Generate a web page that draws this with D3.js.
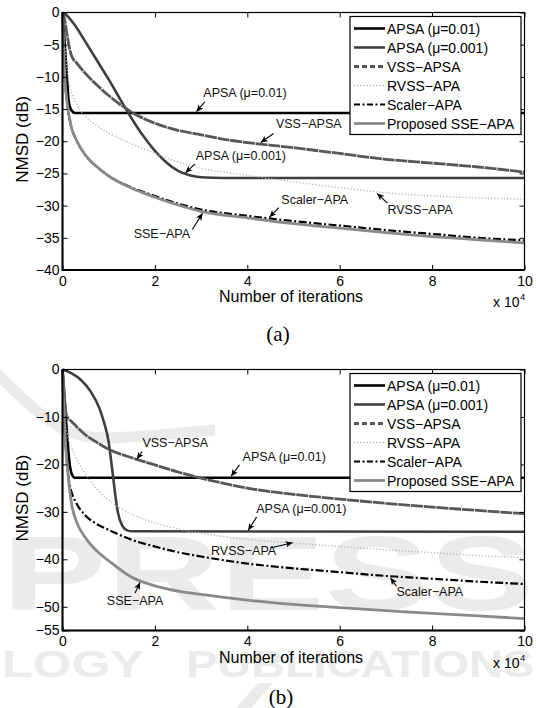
<!DOCTYPE html>
<html><head><meta charset="utf-8">
<script src="https://cdn.jsdelivr.net/npm/d3@7"></script>
<style>
body{margin:0;background:#fff}
svg{display:block}
text{font-family:"Liberation Sans",Arial,Helvetica,sans-serif}
</style>
</head><body>
<svg id="c" width="536" height="708"></svg>
<script>
// ---------------- data (x in units of 10^4 iterations, y in dB) ----------------
const xTicks = [0, 2, 4, 6, 8, 10];
const yTicksA = [0, -5, -10, -15, -20, -25, -30, -35, -40];
const yTicksB = [0, -10, -20, -30, -40, -50, -55];
const seriesNames = ["APSA (\u03bc=0.01)", "APSA (\u03bc=0.001)", "VSS\u2212APSA", "RVSS\u2212APA", "Scaler\u2212APA", "Proposed SSE\u2212APA"];

// panel (a)
const a_APSA_mu01 = [[0,0],[0.05,-5],[0.1,-10.5],[0.13,-13.5],[0.18,-15],[0.27,-15.6],[10,-15.6]];
const a_APSA_mu001 = [[0,0],[0.1,-0.5],[0.25,-1.8],[0.5,-4.6],[0.75,-7.5],[1,-10.4],[1.25,-13.5],[1.5,-16.5],[1.75,-19.2],[2,-21.5],[2.25,-23.3],[2.5,-24.6],[2.75,-25.3],[3,-25.6],[3.5,-25.7],[10,-25.7]];
const a_VSS = [[0,0],[0.05,-1.2],[0.1,-3.5],[0.15,-5.5],[0.2,-6.8],[0.3,-7.8],[0.5,-9.5],[0.75,-11.3],[1,-12.9],[1.25,-14.3],[1.5,-15.5],[2,-17.2],[2.5,-18.3],[3,-19.0],[3.5,-19.7],[4,-20.2],[5,-21.0],[6,-21.9],[7,-22.8],[8,-23.4],[9,-24.0],[10,-24.8]];
const a_RVSS = [[0,0],[0.05,-5],[0.1,-9],[0.2,-12.5],[0.3,-14.2],[0.5,-16.2],[0.75,-17.6],[1,-18.7],[1.5,-20.4],[2,-21.9],[2.5,-23.2],[3,-24.2],[3.5,-24.8],[4,-25.3],[5,-26.3],[6,-27.2],[7,-28.0],[8,-28.5],[9,-28.8],[10,-29.0]];
const a_Scaler = [[0,0],[0.02,-5],[0.05,-10],[0.1,-14],[0.2,-18],[0.3,-19.8],[0.5,-22.2],[0.75,-24],[1,-25.4],[1.5,-27.2],[2,-28.5],[2.5,-29.7],[3,-30.6],[4,-31.6],[5,-32.4],[6,-33.1],[7,-33.8],[8,-34.4],[9,-35.0],[10,-35.4]];
const a_SSE = [[0,0],[0.02,-5],[0.05,-10],[0.1,-14],[0.2,-18],[0.3,-19.8],[0.5,-22.2],[0.75,-24],[1,-25.4],[1.5,-27.3],[2,-28.7],[2.5,-29.9],[3,-30.9],[4,-31.9],[5,-32.8],[6,-33.5],[7,-34.2],[8,-34.8],[9,-35.3],[10,-35.8]];

// panel (b)
const b_APSA_mu01 = [[0,0],[0.05,-7],[0.1,-14],[0.15,-19.5],[0.2,-22],[0.27,-22.8],[10,-22.8]];
const b_APSA_mu001 = [[0,0],[0.2,-0.8],[0.4,-2.2],[0.6,-4.5],[0.8,-8.2],[0.9,-11.2],[1,-15.3],[1.05,-19],[1.1,-23],[1.15,-27],[1.2,-30.2],[1.3,-33],[1.4,-33.9],[1.5,-34.1],[10,-34.2]];
const b_VSS = [[0,0],[0.03,-4],[0.06,-8],[0.1,-10],[0.2,-11],[0.3,-12],[0.5,-13.8],[0.75,-15.4],[1,-16.8],[1.5,-18.6],[2,-20.1],[2.5,-21.6],[3,-22.9],[3.5,-24],[4,-25],[5,-26.3],[6,-27.3],[7,-28.2],[8,-29],[9,-29.7],[10,-30.4]];
const b_RVSS = [[0,0],[0.03,-6],[0.06,-11],[0.1,-13.5],[0.2,-16.5],[0.3,-18.8],[0.5,-22],[0.75,-25.3],[1,-27.5],[1.5,-30.5],[2,-32.3],[2.5,-33.6],[3,-34.5],[4,-35.8],[5,-36.6],[6,-37.3],[7,-38],[8,-38.6],[9,-39.2],[10,-39.7]];
const b_Scaler = [[0,0],[0.02,-6],[0.05,-13],[0.1,-20],[0.15,-24],[0.2,-26],[0.3,-28.2],[0.5,-30.8],[0.75,-32.6],[1,-33.8],[1.5,-35.9],[2,-37.3],[2.5,-38.5],[3,-39.4],[4,-40.9],[5,-41.9],[6,-42.7],[7,-43.5],[8,-44.1],[9,-44.7],[10,-45.2]];
const b_SSE = [[0,0],[0.02,-6],[0.05,-13],[0.1,-20],[0.15,-25],[0.2,-28.5],[0.3,-32],[0.5,-35.5],[0.75,-38.3],[1,-40.3],[1.5,-43.8],[2,-45.6],[2.5,-46.7],[3,-47.4],[4,-48.6],[5,-49.5],[6,-50.2],[7,-50.8],[8,-51.4],[9,-51.9],[10,-52.5]];

// annotations: label, text anchor point, arrow tail, arrow tip (data units)
const annotationsA = [
  {t:"APSA (\u03bc=0.01)", tx:3.95, ty:-13.2, x1:3.08, y1:-13.9, x2:2.9, y2:-15.4},
  {t:"VSS\u2212APSA", tx:5.33, ty:-18.0, x1:4.57, y1:-18.8, x2:4.29, y2:-20.2},
  {t:"APSA (\u03bc=0.001)", tx:3.86, ty:-22.9, x1:2.87, y1:-23.5, x2:2.66, y2:-24.9},
  {t:"Scaler\u2212APA", tx:5.46, ty:-29.8, x1:4.68, y1:-30.3, x2:4.48, y2:-31.8},
  {t:"SSE\u2212APA", tx:2.15, ty:-35.0, x1:2.81, y1:-33.7, x2:3.03, y2:-31.2},
  {t:"RVSS\u2212APA", tx:7.74, ty:-31.3, x1:7.03, y1:-29.6, x2:6.81, y2:-28.1}
];
const annotationsB = [
  {t:"VSS\u2212APSA", tx:2.44, ty:-16.4, x1:1.72, y1:-17.3, x2:1.61, y2:-18.9},
  {t:"APSA (\u03bc=0.01)", tx:4.8, ty:-19.2, x1:3.83, y1:-20.1, x2:3.65, y2:-22.5},
  {t:"APSA (\u03bc=0.001)", tx:5.17, ty:-30.3, x1:4.2, y1:-31.1, x2:4.02, y2:-33.9},
  {t:"RVSS\u2212APA", tx:3.92, ty:-39.0, x1:4.5, y1:-37.6, x2:4.98, y2:-36.5},
  {t:"Scaler\u2212APA", tx:7.95, ty:-47.8, x1:7.23, y1:-45.7, x2:7.1, y2:-43.9},
  {t:"SSE\u2212APA", tx:1.57, ty:-49.7, x1:1.57, y1:-47.1, x2:1.68, y2:-44.9}
];

// ---------------- styles ----------------
const styles = [
  {color:"#000000", width:2.6, dash:null, legDash:null},
  {color:"#3f3f3f", width:2.6, dash:null, legDash:null},
  {color:"#575757", width:2.8, dash:"12,0.8", legDash:"5,3"},
  {color:"#b4b4b4", width:1.3, dash:"1.2,2", legDash:"1.2,2"},
  {color:"#000000", width:2.2, dash:"8,2.5,2,2.5", legDash:"6,2.5,2,2.5"},
  {color:"#8a8a8a", width:2.8, dash:null, legDash:null}
];

const svg = d3.select("#c");
svg.append("rect").attr("width",536).attr("height",708).attr("fill","#fff");
const defs = svg.append("defs");
defs.append("marker").attr("id","arr").attr("viewBox","0 0 10 10")
  .attr("refX",10).attr("refY",5).attr("markerWidth",7).attr("markerHeight",7)
  .attr("markerUnits","userSpaceOnUse").attr("orient","auto")
  .append("path").attr("d","M0,0.5 L10,5 L0,9.5 L2.5,5 Z").attr("fill","#000");

// ---------------- faint publisher watermark (behind panel b) ----------------
const wmColor = "#ebebeb";
const wm = svg.append("g").attr("fill",wmColor);
wm.append("path").attr("d","M-5,372 C35,410 60,440 110,438 S190,432 215,430")
  .attr("fill","none").attr("stroke",wmColor).attr("stroke-width",11);
wm.append("text").attr("x",2).attr("y",610).attr("font-size",105).attr("font-weight","bold")
  .attr("textLength",532).attr("lengthAdjust","spacingAndGlyphs").text("PRESS");
wm.append("text").attr("x",2).attr("y",677).attr("font-size",37).attr("font-weight","bold")
  .attr("textLength",142).attr("lengthAdjust","spacingAndGlyphs").text("LOGY");
wm.append("text").attr("x",186).attr("y",677).attr("font-size",37).attr("font-weight","bold")
  .attr("textLength",348).attr("lengthAdjust","spacingAndGlyphs").text("PUBLICATIONS");
wm.append("polygon").attr("points","236,708 258,683 273,683 251,708");

// ---------------- panels ----------------
const panels = [
  {top:12.5, bottom:270, yDomain:[-40,0], yTicks:yTicksA,
   series:[a_APSA_mu01,a_APSA_mu001,a_VSS,a_RVSS,a_Scaler,a_SSE], ann:annotationsA, label:"(a)", labelX:278, labelY:341},
  {top:369.5, bottom:630.5, yDomain:[-55,0], yTicks:yTicksB,
   series:[b_APSA_mu01,b_APSA_mu001,b_VSS,b_RVSS,b_Scaler,b_SSE], ann:annotationsB, label:"(b)", labelX:281, labelY:704}
];

const X0 = 62.5, X1 = 524.5;
const fmt = d3.format("d");

panels.forEach(p => {
  const x = d3.scaleLinear().domain([0,10]).range([X0,X1]);
  const y = d3.scaleLinear().domain(p.yDomain).range([p.bottom,p.top]);
  const g = svg.append("g");

  const line = d3.line().x(d=>x(d[0])).y(d=>y(d[1])).curve(d3.curveMonotoneX);
  p.series.forEach((s,i) => {
    const st = styles[i];
    g.append("path").attr("d", line(s)).attr("fill","none")
      .attr("stroke", st.color).attr("stroke-width", st.width)
      .attr("stroke-linejoin","round")
      .attr("stroke-dasharray", st.dash);
  });

  // axes with inward ticks
  const styleAxis = sel => {
    sel.select(".domain").remove();
    sel.attr("font-size",14).attr("font-family","'Liberation Sans',Arial,sans-serif");
    sel.selectAll(".tick line").attr("stroke","#000").attr("stroke-width",1);
    sel.selectAll(".tick text").attr("fill","#000");
  };
  g.append("g").attr("transform",`translate(0,${p.bottom})`)
    .call(d3.axisBottom(x).tickValues(xTicks).tickSizeInner(-5).tickSizeOuter(0).tickPadding(6).tickFormat(fmt))
    .call(styleAxis);
  g.append("g").attr("transform",`translate(0,${p.top})`)
    .call(d3.axisTop(x).tickValues(xTicks).tickSizeInner(-5).tickSizeOuter(0).tickFormat(""))
    .call(styleAxis);
  g.append("g").attr("transform",`translate(${X0},0)`)
    .call(d3.axisLeft(y).tickValues(p.yTicks).tickSizeInner(-5).tickSizeOuter(0).tickPadding(3).tickFormat(fmt))
    .call(styleAxis);
  g.append("g").attr("transform",`translate(${X1},0)`)
    .call(d3.axisRight(y).tickValues(p.yTicks).tickSizeInner(-5).tickSizeOuter(0).tickFormat(""))
    .call(styleAxis);

  // box
  g.append("rect").attr("x",X0).attr("y",p.top).attr("width",X1-X0).attr("height",p.bottom-p.top)
    .attr("fill","none").attr("stroke","#000").attr("stroke-width",1.2);
  g.append("path").attr("d",`M${X0},${p.top}V${p.bottom}H${X1}`)
    .attr("fill","none").attr("stroke","#000").attr("stroke-width",2);

  // annotations
  p.ann.forEach(a => {
    g.append("line").attr("x1",x(a.x1)).attr("y1",y(a.y1)).attr("x2",x(a.x2)).attr("y2",y(a.y2))
      .attr("stroke","#000").attr("stroke-width",1.1).attr("marker-end","url(#arr)");
    g.append("text").attr("x",x(a.tx)).attr("y",y(a.ty)).attr("text-anchor","middle")
      .attr("font-size",12.5).attr("fill","#111").text(a.t);
  });

  // legend
  const lg = g.append("g");
  const lx0 = 350, lx1 = 521, ly0 = p.top + 4, ly1 = p.top + 122;
  lg.append("rect").attr("x",lx0).attr("y",ly0).attr("width",lx1-lx0).attr("height",ly1-ly0)
    .attr("fill","#fff").attr("stroke","#000").attr("stroke-width",1.2);
  seriesNames.forEach((n,i) => {
    const yy = p.top + 16 + 19*i;
    const st = styles[i];
    lg.append("line").attr("x1",354).attr("x2",385).attr("y1",yy).attr("y2",yy)
      .attr("stroke",st.color).attr("stroke-width",Math.max(st.width,1.3)).attr("stroke-dasharray",st.legDash);
    lg.append("text").attr("x",387).attr("y",yy).attr("dy","0.36em").attr("font-size",14).attr("fill","#000").text(n);
  });

  // axis labels
  g.append("text").attr("x",291).attr("y",p.bottom+32).attr("text-anchor","middle")
    .attr("font-size",16).attr("fill","#000").text("Number of iterations");
  g.append("text").attr("transform",`translate(28,${(p.top+p.bottom)/2 - 2}) rotate(-90)`)
    .attr("text-anchor","middle").attr("font-size",17).attr("fill","#000").text("NMSD (dB)");
  g.append("text").attr("x",519.5).attr("y",p.bottom+37).attr("text-anchor","end")
    .attr("font-size",14).attr("fill","#000").text("x 10");
  g.append("text").attr("x",520).attr("y",p.bottom+30).attr("font-size",9.5).attr("fill","#000").text("4");

  svg.append("text").attr("x",p.labelX).attr("y",p.labelY).attr("text-anchor","middle")
    .style("font-family","'Liberation Serif','Times New Roman',serif").attr("font-size",21).attr("fill","#000").text(p.label);
});
</script>
</body></html>
